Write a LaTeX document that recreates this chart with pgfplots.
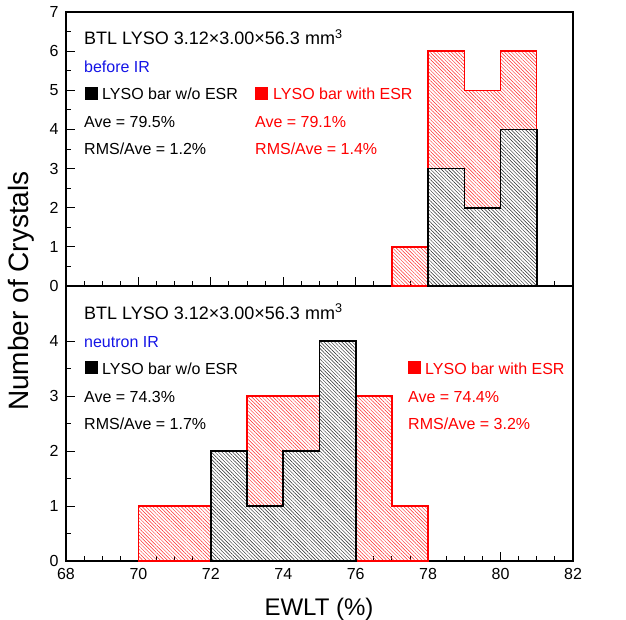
\documentclass[border=0pt]{standalone}
\usepackage{fontspec}
\setmainfont{Liberation Sans}
\usepackage{pgfplots}
\pgfplotsset{compat=1.18}
\usetikzlibrary{patterns.meta}
\newcommand\fs[1]{\fontsize{#1}{#1}\selectfont}
\definecolor{irblue}{RGB}{20,20,230}
\pgfplotsset{panel/.style={
  scale only axis, width=507pt,
  xmin=68, xmax=82, xtick={68,70,...,82}, minor x tick num=3, minor y tick num=1,
  ymin=0,
  tick align=inside, tick pos=left,
  axis line style={line width=1.6pt},
  major tick length=9pt, minor tick length=5pt,
  tick style={line width=1pt, black},
  tick label style={font=\fs{16}},
  /pgf/number format/assume math mode=true,
  yticklabel style={anchor=east, xshift=-4pt},
  xticklabel style={anchor=base, yshift=-18pt},
}}
\tikzset{
  redhatch/.style={const plot, draw=red, line width=1.3pt,
    pattern={Lines[angle=-45,distance=2.5pt,line width=0.45pt]}, pattern color=red!85},
  whitefill/.style={const plot, draw=none, fill=white},
  blackhatch/.style={const plot, draw=black, line width=1.6pt,
    pattern={Lines[angle=-45,distance=2.5pt,line width=0.45pt]}, pattern color=black!85},
}
\begin{document}
\begin{tikzpicture}[x=1pt,y=1pt]
\useasboundingbox (-66,-58) rectangle (560,561);
% bottom panel: neutron IR
\begin{axis}[panel, at={(0pt,0pt)}, anchor=south west, height=275pt, ymax=5, ytick={0,1,2,3,4}]
\addplot[redhatch] coordinates {(70,1)(72,2)(73,3)(75,4)(76,3)(77,1)(78,1)} \closedcycle;
\addplot[whitefill] coordinates {(72,2)(73,1)(74,2)(75,4)(76,4)} \closedcycle;
\addplot[blackhatch] coordinates {(72,2)(73,1)(74,2)(75,4)(76,4)} \closedcycle;
\end{axis}
% top panel: before IR
\begin{axis}[panel, at={(0pt,275pt)}, anchor=south west, height=274pt, ymax=7, ytick={0,1,...,7}, xticklabels={}]
\addplot[redhatch] coordinates {(77,1)(78,6)(79,5)(80,6)(81,6)} \closedcycle;
\addplot[whitefill] coordinates {(78,3)(79,2)(80,4)(81,4)} \closedcycle;
\addplot[blackhatch] coordinates {(78,3)(79,2)(80,4)(81,4)} \closedcycle;
\end{axis}
% texts top panel
\node[anchor=base west, inner sep=0, font=\fs{18}] at (18,516) {BTL LYSO 3.12×3.00×56.3 mm\textsuperscript{3}};
\node[anchor=base west, inner sep=0, font=\fs{16}, text=irblue] at (18,488) {before IR};
\fill[black] (19,461) rectangle (32,474);
\node[anchor=base west, inner sep=0, font=\fs{16}] at (36,461) {LYSO bar w/o ESR};
\node[anchor=base west, inner sep=0, font=\fs{16}] at (18,433) {Ave = 79.5\%};
\node[anchor=base west, inner sep=0, font=\fs{16}] at (18,406) {RMS/Ave = 1.2\%};
\fill[red] (189,461) rectangle (202,474);
\node[anchor=base west, inner sep=0, font=\fs{16}, text=red] at (207,461) {LYSO bar with ESR};
\node[anchor=base west, inner sep=0, font=\fs{16}, text=red] at (189,433) {Ave = 79.1\%};
\node[anchor=base west, inner sep=0, font=\fs{16}, text=red] at (189,406) {RMS/Ave = 1.4\%};
% texts bottom panel
\node[anchor=base west, inner sep=0, font=\fs{18}] at (18,242) {BTL LYSO 3.12×3.00×56.3 mm\textsuperscript{3}};
\node[anchor=base west, inner sep=0, font=\fs{16}, text=irblue] at (18,214) {neutron IR};
\fill[black] (19,187) rectangle (32,200);
\node[anchor=base west, inner sep=0, font=\fs{16}] at (36,187) {LYSO bar w/o ESR};
\node[anchor=base west, inner sep=0, font=\fs{16}] at (18,159) {Ave = 74.3\%};
\node[anchor=base west, inner sep=0, font=\fs{16}] at (18,132) {RMS/Ave = 1.7\%};
\fill[red] (342,187) rectangle (355,200);
\node[anchor=base west, inner sep=0, font=\fs{16}, text=red] at (359,187) {LYSO bar with ESR};
\node[anchor=base west, inner sep=0, font=\fs{16}, text=red] at (342,159) {Ave = 74.4\%};
\node[anchor=base west, inner sep=0, font=\fs{16}, text=red] at (342,132) {RMS/Ave = 3.2\%};
% axis labels
\node[rotate=90, font=\fs{28}] at (-45,270) {Number of Crystals};
\node[anchor=base, font=\fs{24}] at (253,-54) {EWLT (\%)};
\end{tikzpicture}
\end{document}
